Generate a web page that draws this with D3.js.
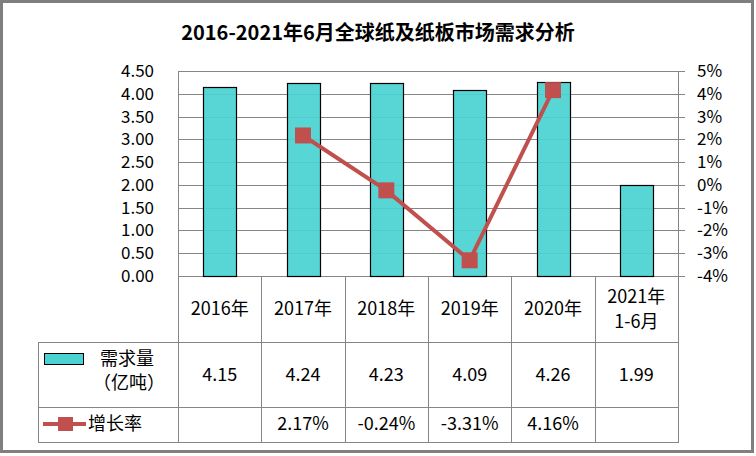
<!DOCTYPE html>
<html><head><meta charset="utf-8">
<script src="https://cdn.jsdelivr.net/npm/d3@7"></script>
<style>body{margin:0;background:#fff}svg{display:block}text{font-family:"Noto Sans CJK SC","Noto Sans",sans-serif;fill:#000}</style>
</head><body>
<script>
const categories = ["2016年","2017年","2018年","2019年","2020年","2021年\n1-6月"];
const demand = [4.15,4.24,4.23,4.09,4.26,1.99];
const growth = [null,2.17,-0.24,-3.31,4.16,null];
const leftTicks = [0,0.5,1,1.5,2,2.5,3,3.5,4,4.5];
const rightTicks = [-4,-3,-2,-1,0,1,2,3,4,5];
const title = "2016-2021年6月全球纸及纸板市场需求分析";
const seriesNames = ["需求量","（亿吨）","增长率"];

const W=756,H=456;
const FS=18, AFS=17;
const svg=d3.select("body").append("svg").attr("width",W).attr("height",H);
const L=178,R=678,T=71,B=276;
const grey="#868686";
const x=d3.scaleBand().domain(d3.range(categories.length)).range([L,R]);
const y=d3.scaleLinear().domain([0,4.5]).range([B,T]);
const y2=d3.scaleLinear().domain([-4,5]).range([B,T]);

svg.append("rect").attr("x",1.5).attr("y",1.5).attr("width",751).attr("height",450)
  .attr("fill","#fff").attr("stroke","#7f7f7f").attr("stroke-width",3);

svg.append("text").attr("x",378).attr("y",40).attr("text-anchor","middle")
  .attr("font-size",20).attr("font-weight","bold").text(title);

// gridlines
svg.append("g").selectAll("line").data(leftTicks).join("line")
  .attr("x1",L).attr("x2",R+7).attr("y1",d=>Math.round(y(d))+0.5).attr("y2",d=>Math.round(y(d))+0.5)
  .attr("stroke",grey).attr("stroke-width",1);

// bars
svg.append("g").selectAll("rect").data(demand).join("rect")
  .attr("x",(d,i)=>Math.round(x(i)+x.bandwidth()/2-16.5)+0.5)
  .attr("y",d=>Math.round(y(d))+0.5)
  .attr("width",33).attr("height",d=>Math.round(B-y(d)))
  .attr("fill","#4BD3D3").attr("fill-opacity",0.93).attr("stroke","#000").attr("stroke-width",1.2);

// axes lines
svg.append("line").attr("x1",L+0.5).attr("x2",L+0.5).attr("y1",T).attr("y2",B).attr("stroke",grey);
svg.append("line").attr("x1",R+0.5).attr("x2",R+0.5).attr("y1",T).attr("y2",B).attr("stroke",grey);

// left labels
svg.append("g").selectAll("text").data(leftTicks).join("text")
  .attr("x",154).attr("y",d=>y(d)+6).attr("text-anchor","end").attr("font-size",AFS)
  .text(d=>d.toFixed(2));
// right labels
svg.append("g").selectAll("text").data(rightTicks).join("text")
  .attr("x",697).attr("y",d=>y2(d)+6).attr("text-anchor","start").attr("font-size",AFS)
  .text(d=>d+"%");

// growth line
const pts=growth.map((g,i)=>({g,i})).filter(d=>d.g!==null);
svg.append("path").datum(pts)
  .attr("d",d3.line().x(d=>x(d.i)+x.bandwidth()/2).y(d=>y2(d.g)))
  .attr("fill","none").attr("stroke","#C0504D").attr("stroke-width",4);
svg.append("g").selectAll("rect").data(pts).join("rect")
  .attr("x",d=>x(d.i)+x.bandwidth()/2-8).attr("y",d=>y2(d.g)-8)
  .attr("width",16).attr("height",16).attr("fill","#C0504D");

// table
const tl=svg.append("g").attr("stroke",grey).attr("stroke-width",1);
const r1=342,r2=407,r3=442,TL=38;
[L,...categories.map((c,i)=>x(i)+x.bandwidth())].forEach(v=>{
  const xv=Math.round(v)+0.5;
  tl.append("line").attr("x1",xv).attr("x2",xv).attr("y1",B).attr("y2",r3);
});
tl.append("line").attr("x1",TL+0.5).attr("x2",TL+0.5).attr("y1",r1).attr("y2",r3);
[r1,r2,r3].forEach(v=>tl.append("line").attr("x1",TL).attr("x2",R+1).attr("y1",v+0.5).attr("y2",v+0.5));

categories.forEach((c,i)=>{
  const cx=x(i)+x.bandwidth()/2;
  const lines=c.split("\n");
  const t=svg.append("text").attr("text-anchor","middle").attr("font-size",FS);
  if(lines.length===1){ t.attr("x",cx).attr("y",315).text(c); }
  else lines.forEach((s,k)=>t.append("tspan").attr("x",cx).attr("y",303+k*25).text(s));
  svg.append("text").attr("x",cx).attr("y",381).attr("text-anchor","middle").attr("font-size",FS).text(demand[i].toFixed(2));
  if(growth[i]!==null) svg.append("text").attr("x",cx).attr("y",430).attr("text-anchor","middle").attr("font-size",FS).text(growth[i].toFixed(2)+"%");
});

// legend
svg.append("rect").attr("x",44.5).attr("y",353.5).attr("width",39).attr("height",11).attr("fill","#4BD3D3").attr("stroke","#000");
svg.append("text").attr("x",100).attr("y",365).attr("font-size",FS).text(seriesNames[0]);
svg.append("text").attr("x",93).attr("y",389).attr("font-size",FS).text(seriesNames[1]);
svg.append("line").attr("x1",43).attr("x2",86).attr("y1",424).attr("y2",424).attr("stroke","#C0504D").attr("stroke-width",4);
svg.append("rect").attr("x",58).attr("y",417).attr("width",15).attr("height",14).attr("fill","#C0504D");
svg.append("text").attr("x",88).attr("y",430).attr("font-size",FS).text(seriesNames[2]);
</script>
</body></html>
